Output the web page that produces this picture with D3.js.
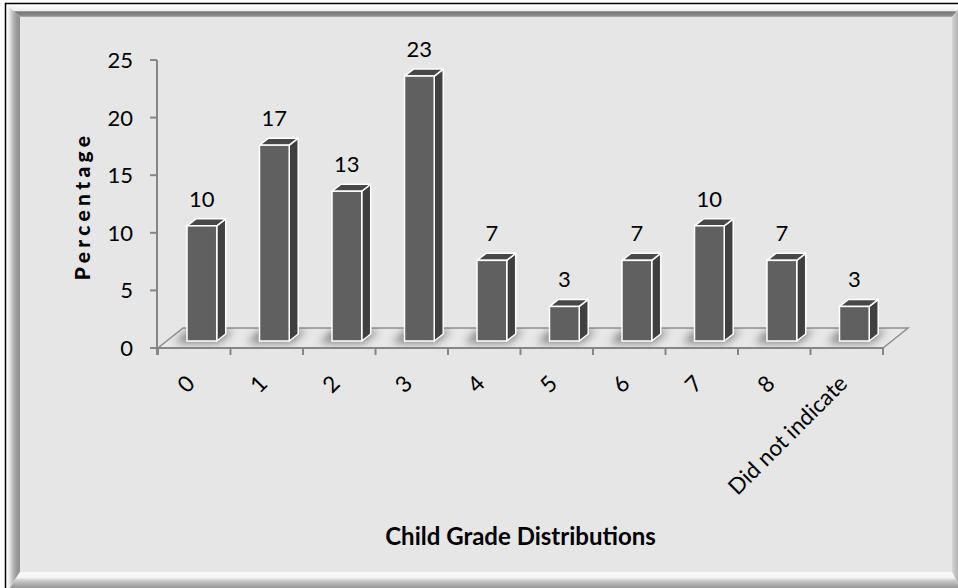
<!DOCTYPE html>
<html>
<head>
<meta charset="utf-8">
<script src="https://cdn.jsdelivr.net/npm/d3@7/dist/d3.min.js"></script>
<style>
  html, body { margin: 0; padding: 0; background: #ffffff; }
  svg { display: block; }
  text { font-family: Lato, "Open Sans", sans-serif; fill: #000; }
</style>
</head>
<body>
<svg id="chart" width="958" height="588"></svg>
<script>
// Child grade distribution (percentage of respondents)
const categories = ["0", "1", "2", "3", "4", "5", "6", "7", "8", "Did not indicate"];
const values = [10, 17, 13, 23, 7, 3, 7, 10, 7, 3];
const yTicks = [0, 5, 10, 15, 20, 25];
const yTitle = "Percentage";
const xTitle = "Child Grade Distributions";

const svg = d3.select("#chart");
const defs = svg.append("defs");

// ---- bevelled frame ----
function linGrad(id, x2, y2, stops) {
  const g = defs.append("linearGradient").attr("id", id)
    .attr("x1", 0).attr("y1", 0).attr("x2", x2).attr("y2", y2);
  stops.forEach(([o, c]) => g.append("stop").attr("offset", o).attr("stop-color", c));
}
linGrad("gTop", 0, 1, [[0, "#fbfbfb"], [0.5, "#eeeeee"], [0.56, "#767676"], [0.88, "#8a8a8a"], [1, "#b4b4b4"]]);
linGrad("gLeft", 1, 0, [[0, "#ffffff"], [0.2, "#e6e6e6"], [0.5, "#b4b4b4"], [0.75, "#999999"], [1, "#8e8e8e"]]);
linGrad("gBottom", 0, 1, [[0, "#fafafa"], [0.28, "#f4f4f4"], [0.42, "#cdcdcd"], [0.7, "#a2a2a2"], [1, "#8a8a8a"]]);
linGrad("gRight", 1, 0, [[0, "#d6d6d6"], [1, "#9a9a9a"]]);

const outer = { l: 7, t: 5, r: 962, b: 592 };
const inner = { l: 20, t: 17, r: 952, b: 572 };
const frame = svg.append("g");
frame.append("rect").attr("x", inner.l).attr("y", inner.t)
  .attr("width", inner.r - inner.l).attr("height", inner.b - inner.t).attr("fill", "#e6e6e6");
const poly = pts => pts.map(p => p.join(",")).join(" ");
frame.append("polygon").attr("fill", "url(#gTop)")
  .attr("points", poly([[outer.l, outer.t], [outer.r, outer.t], [inner.r, inner.t], [inner.l, inner.t]]));
frame.append("polygon").attr("fill", "url(#gLeft)")
  .attr("points", poly([[outer.l, outer.t], [inner.l, inner.t], [inner.l, inner.b], [outer.l, outer.b]]));
frame.append("polygon").attr("fill", "url(#gBottom)")
  .attr("points", poly([[inner.l, inner.b], [inner.r, inner.b], [outer.r, outer.b], [outer.l, outer.b]]));
frame.append("polygon").attr("fill", "url(#gRight)")
  .attr("points", poly([[inner.r, inner.t], [outer.r, outer.t], [outer.r, outer.b], [inner.r, inner.b]]));
frame.append("rect").attr("x", 5.5).attr("y", 3.5).attr("width", 980).attr("height", 620)
  .attr("fill", "none").attr("stroke", "#000").attr("stroke-width", 1.5);

// ---- scales ----
const plotL = 158, plotR = 883;
const x = d3.scaleBand().domain(categories).range([plotL, plotR]).padding(0);
const y = d3.scaleLinear().domain([0, 25]).range([348, 60]);
const depth = { dx: 25, dy: -20 };      // floor depth
const barDepth = { dx: 9, dy: -7 };     // column depth
const barShift = { dx: 0, dy: -7 };     // columns sit mid-way into the floor
const bw = x.bandwidth();
const barW = bw * 0.41;
const barOff = bw * 0.4;

// ---- floor ----
const g = svg.append("g");
const y0 = y(0);
const floorPts = [[plotL, y0], [plotR, y0], [plotR + depth.dx, y0 + depth.dy], [plotL + depth.dx, y0 + depth.dy]];
defs.append("clipPath").attr("id", "floorClip").append("polygon").attr("points", poly(floorPts));
g.append("polygon").attr("points", poly(floorPts)).attr("fill", "#e8e8e8")
  .attr("stroke", "#8e8e8e").attr("stroke-width", 1.5);

// soft shadows cast by the columns on the floor
defs.append("filter").attr("id", "blur").attr("x", "-50%").attr("y", "-50%")
  .attr("width", "200%").attr("height", "200%")
  .append("feGaussianBlur").attr("stdDeviation", 4);
const shadowG = g.append("g").attr("clip-path", "url(#floorClip)");
shadowG.selectAll("polygon").data(categories).join("polygon")
  .attr("points", d => {
    const bx = x(d) + barOff - 12, by = y0 + barShift.dy + 2;
    return poly([[bx, by], [bx + barW + 14, by], [bx + barW + 14 + barDepth.dx + 6, by + barDepth.dy - 6],
      [bx + barDepth.dx + 4, by + barDepth.dy - 6]]);
  })
  .attr("fill", "#5a5a5a").attr("opacity", 0.75).attr("filter", "url(#blur)");

// ---- axes ----
const axisColor = "#868686";
g.append("line").attr("x1", plotL - 1).attr("x2", plotL - 1).attr("y1", y(25)).attr("y2", y0 + 7)
  .attr("stroke", axisColor).attr("stroke-width", 2);
g.append("line").attr("x1", plotL - 1).attr("x2", plotR + 1).attr("y1", y0).attr("y2", y0)
  .attr("stroke", axisColor).attr("stroke-width", 2);
g.selectAll(".ytick").data(yTicks).join("line")
  .attr("x1", plotL - 8).attr("x2", plotL - 1).attr("y1", d => y(d)).attr("y2", d => y(d))
  .attr("stroke", axisColor).attr("stroke-width", 2);
const xEdges = categories.map(c => x(c)).concat([plotR]);
g.selectAll(".xtick").data(xEdges).join("line")
  .attr("x1", d => d).attr("x2", d => d).attr("y1", y0).attr("y2", y0 + 7)
  .attr("stroke", axisColor).attr("stroke-width", 2);

g.selectAll(".ylab").data(yTicks).join("text")
  .attr("x", plotL - 25).attr("y", d => y(d)).attr("dy", "0.36em")
  .attr("text-anchor", "end").attr("font-size", 22).text(d => d);

g.selectAll(".xlab").data(categories).join("text")
  .attr("transform", d => `translate(${x(d) + bw / 2 + 2},385) rotate(-45)`)
  .attr("text-anchor", "end").attr("font-size", 22.5).text(d => d);

// ---- columns ----
const bars = g.selectAll(".bar").data(categories.map((c, i) => ({ c, v: values[i] }))).join("g");
const bx = d => x(d.c) + barOff;
const by = d => y(d.v) + barShift.dy;
const bb = y0 + barShift.dy;
bars.append("polygon").attr("fill", "#404040").attr("stroke", "#fff").attr("stroke-width", 1.5)
  .attr("stroke-linejoin", "round")
  .attr("points", d => poly([[bx(d) + barW, by(d)], [bx(d) + barW + barDepth.dx, by(d) + barDepth.dy],
    [bx(d) + barW + barDepth.dx, bb + barDepth.dy], [bx(d) + barW, bb]]));
bars.append("polygon").attr("fill", "#474747").attr("stroke", "#fff").attr("stroke-width", 1.5)
  .attr("stroke-linejoin", "round")
  .attr("points", d => poly([[bx(d), by(d)], [bx(d) + barDepth.dx, by(d) + barDepth.dy],
    [bx(d) + barW + barDepth.dx, by(d) + barDepth.dy], [bx(d) + barW, by(d)]]));
bars.append("rect").attr("fill", "#606060").attr("stroke", "#fff").attr("stroke-width", 1.5)
  .attr("x", bx).attr("y", by).attr("width", barW).attr("height", d => bb - by(d));

bars.append("text").attr("x", d => bx(d) + barW / 2).attr("y", d => by(d) - 19)
  .attr("text-anchor", "middle").attr("font-size", 22).text(d => d.v);

// ---- titles ----
svg.append("text").attr("transform", "translate(90,206) rotate(-90)")
  .attr("text-anchor", "middle").attr("font-size", 21).attr("font-weight", 900)
  .attr("letter-spacing", 4.3).text(yTitle);
svg.append("text").attr("x", (plotL + plotR) / 2).attr("y", 545)
  .attr("text-anchor", "middle").attr("font-size", 24).attr("font-weight", "bold").text(xTitle);
</script>
</body>
</html>
